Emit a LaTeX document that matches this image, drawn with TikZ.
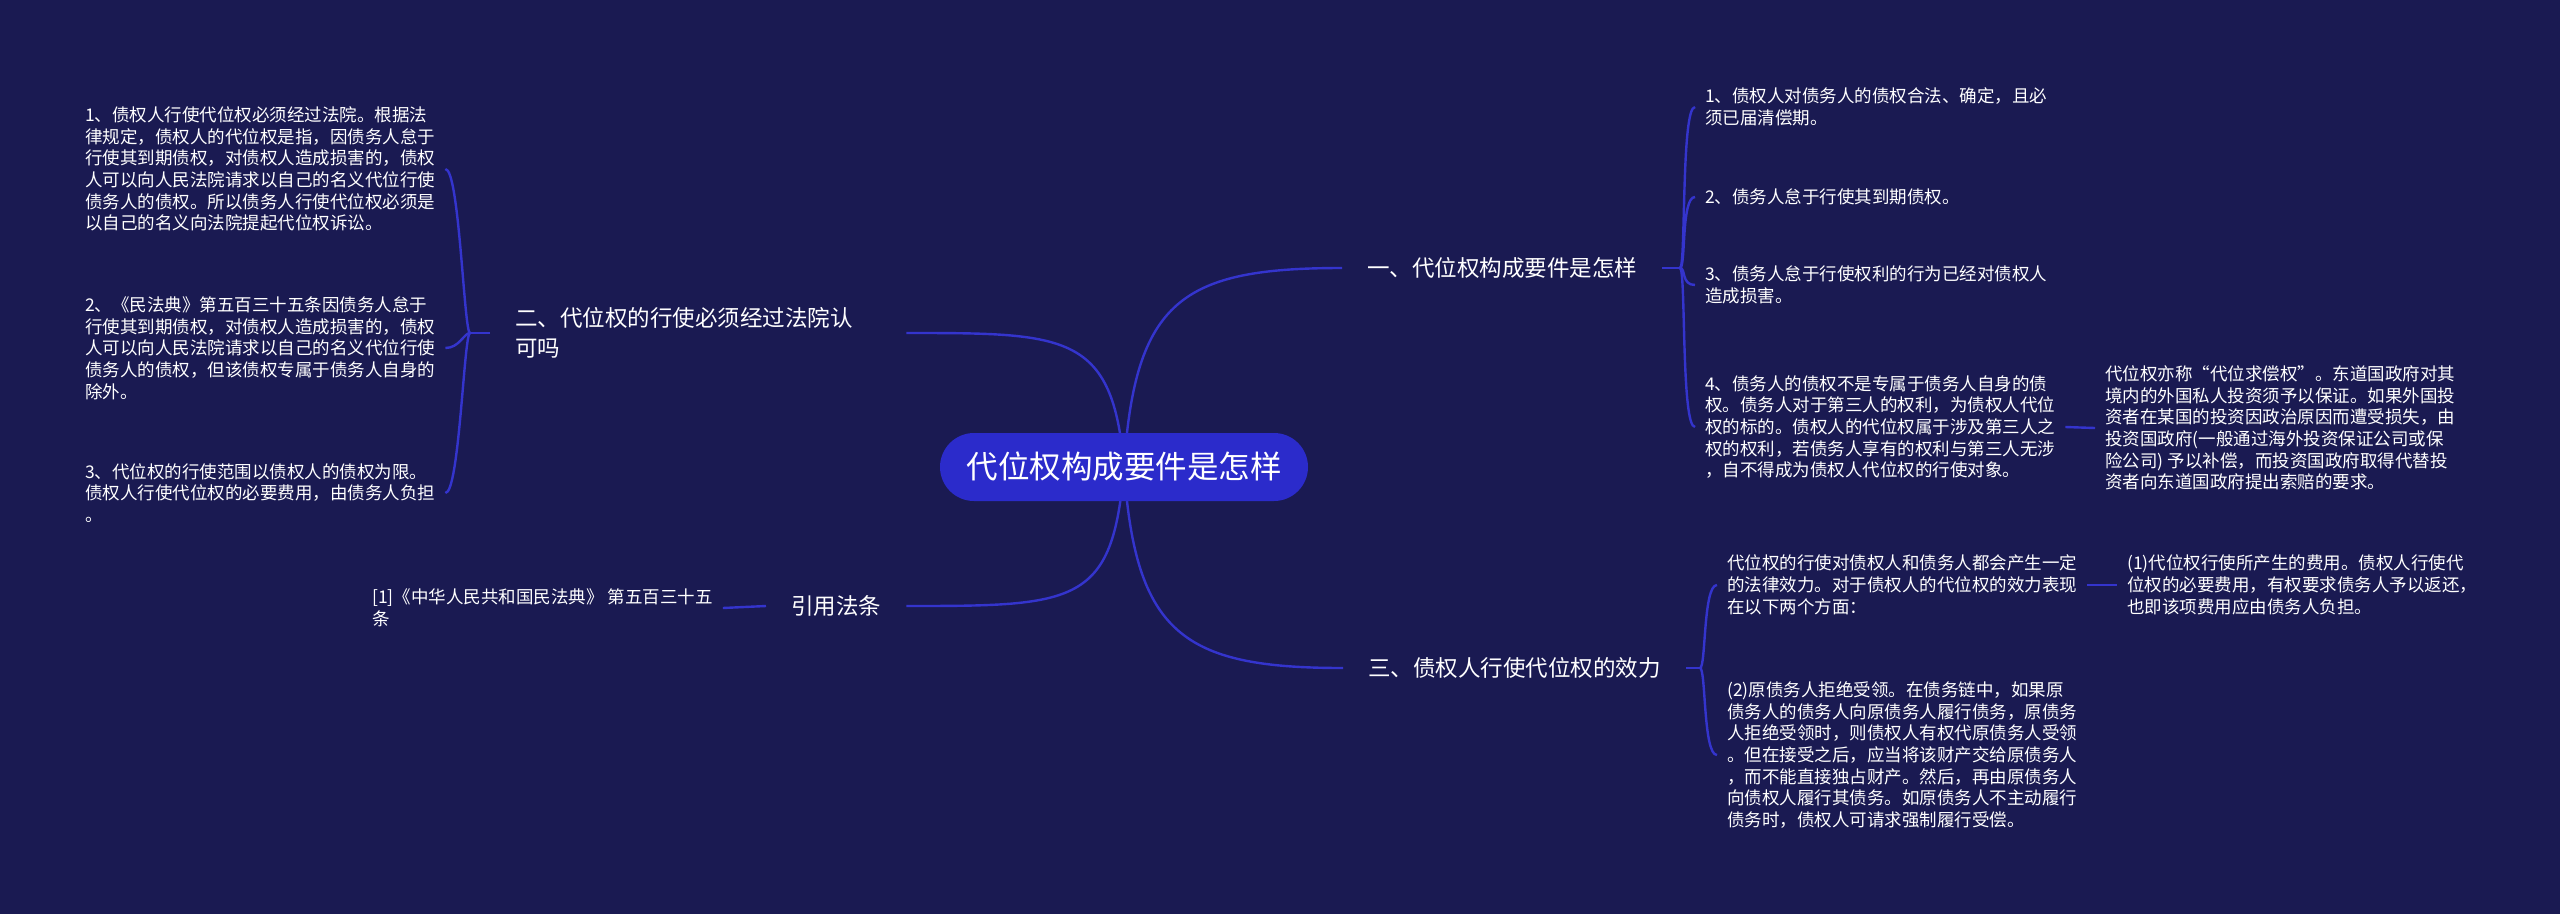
\documentclass[tikz,border=0pt]{standalone}
\usepackage{fontspec}
\newfontfamily\cjk{Noto Sans CJK SC}
\usetikzlibrary{calc}
\definecolor{bgc}{RGB}{26,26,82}
\definecolor{linec}{RGB}{52,52,205}
\definecolor{rootc}{RGB}{43,43,203}
\pgfdeclarelayer{bgl}
\pgfsetlayers{bgl,main}
\tikzset{
  leaf/.style={font=\cjk\fontsize{17.5}{21.7}\selectfont, text=white, align=left, inner xsep=10pt, inner ysep=0pt},
  topic/.style={font=\cjk\fontsize{22.5}{30}\selectfont, text=white, align=left, inner xsep=25pt, inner ysep=0pt},
  rootnode/.style={font=\cjk\fontsize{31.5}{40}\selectfont, text=white, fill=rootc, rounded corners=34pt, minimum width=368pt, minimum height=68pt, inner sep=0pt},
  conn/.style={draw=linec, line width=2.4pt}
}
\begin{document}
\begin{tikzpicture}[x=1pt,y=-1pt]
\begin{pgfonlayer}{bgl}
\fill[bgc] (0,0) rectangle (2560,914);
\end{pgfonlayer}
\useasboundingbox (0,0) rectangle (2560,914);

\node[rootnode] (c) at (1124,467) {代位权构成要件是怎样};

\node[topic, anchor=west] (t1) at (1342,268) {一、代位权构成要件是怎样};
\node[topic, anchor=west] (t3) at (1343,668) {三、债权人行使代位权的效力};
\node[topic, anchor=west, text width=366pt] (t2) at (490,333) {二、代位权的行使必须经过法院认\\可吗};
\node[topic, anchor=west] (tr) at (766,606) {引用法条};

\coordinate (b1) at (1680,268);
\coordinate (b3) at (1700,668);
\coordinate (b2) at (470,333);

\node[leaf, anchor=west] (l1) at (1695,107) {1、债权人对债务人的债权合法、确定，且必\\须已届清偿期。};
\node[leaf, anchor=west] (l2) at (1695,197) {2、债务人怠于行使其到期债权。};
\node[leaf, anchor=west] (l3) at (1695,285) {3、债务人怠于行使权利的行为已经对债权人\\造成损害。};
\node[leaf, anchor=west] (l4) at (1695,427) {4、债务人的债权不是专属于债务人自身的债\\权。债务人对于第三人的权利，为债权人代位\\权的标的。债权人的代位权属于涉及第三人之\\权的权利，若债务人享有的权利与第三人无涉\\，自不得成为债权人代位权的行使对象。};
\node[leaf, anchor=west] (l4c) at (2095,428) {代位权亦称“代位求偿权”。东道国政府对其\\境内的外国私人投资须予以保证。如果外国投\\资者在某国的投资因政治原因而遭受损失，由\\投资国政府(一般通过海外投资保证公司或保\\险公司) 予以补偿，而投资国政府取得代替投\\资者向东道国政府提出索赔的要求。};

\node[leaf, anchor=west] (a) at (1717,585) {代位权的行使对债权人和债务人都会产生一定\\的法律效力。对于债权人的代位权的效力表现\\在以下两个方面：};
\node[leaf, anchor=west] (ac) at (2117,585) {(1)代位权行使所产生的费用。债权人行使代\\位权的必要费用，有权要求债务人予以返还，\\也即该项费用应由债务人负担。};
\node[leaf, anchor=west] (b) at (1717,755) {(2)原债务人拒绝受领。在债务链中，如果原\\债务人的债务人向原债务人履行债务，原债务\\人拒绝受领时，则债权人有权代原债务人受领\\。但在接受之后，应当将该财产交给原债务人\\，而不能直接独占财产。然后，再由原债务人\\向债权人履行其债务。如原债务人不主动履行\\债务时，债权人可请求强制履行受偿。};

\node[leaf, anchor=west] (L1) at (75,169) {1、债权人行使代位权必须经过法院。根据法\\律规定，债权人的代位权是指，因债务人怠于\\行使其到期债权，对债权人造成损害的，债权\\人可以向人民法院请求以自己的名义代位行使\\债务人的债权。所以债务人行使代位权必须是\\以自己的名义向法院提起代位权诉讼。};
\node[leaf, anchor=west] (L2) at (75,348) {2、《民法典》第五百三十五条因债务人怠于\\行使其到期债权，对债权人造成损害的，债权\\人可以向人民法院请求以自己的名义代位行使\\债务人的债权，但该债权专属于债务人自身的\\除外。};
\node[leaf, anchor=west] (L3) at (75,493) {3、代位权的行使范围以债权人的债权为限。\\债权人行使代位权的必要费用，由债务人负担\\。};
\node[leaf, anchor=west] (r1) at (362,608) {[1]《中华人民共和国民法典》 第五百三十五\\条};

\begin{pgfonlayer}{bgl}
\draw[conn] (c.center) .. controls ($(c.center)+(11,-167)$) and ($(t1.west)+(-160,0)$) .. (t1.west);
\draw[conn] (c.center) .. controls ($(c.center)+(11,167)$) and ($(t3.west)+(-160,0)$) .. (t3.west);
\draw[conn] (c.center) .. controls ($(c.center)+(-11,-134)$) and ($(t2.east)+(160,0)$) .. (t2.east);
\draw[conn] (c.center) .. controls ($(c.center)+(-11,138)$) and ($(tr.east)+(170,0)$) .. (tr.east);
\end{pgfonlayer}

\draw[conn] (t1.east) -- (b1);
\foreach \n in {l1,l2,l3,l4}
  \draw[conn] (b1) .. controls ($(b1)+(6,0)$) and ($(\n.west)+(-14,0)$) .. (\n.west);
\draw[conn] (l4.east) -- (l4c.west);

\draw[conn] (t3.east) -- (b3);
\foreach \n in {a,b}
  \draw[conn] (b3) .. controls ($(b3)+(6,0)$) and ($(\n.west)+(-14,0)$) .. (\n.west);
\draw[conn] (a.east) -- (ac.west);

\draw[conn] (t2.west) -- (b2);
\foreach \n in {L1,L2,L3}
  \draw[conn] (b2) .. controls ($(b2)+(-6,0)$) and ($(\n.east)+(14,0)$) .. (\n.east);

\draw[conn] (tr.west) -- (r1.east);
\end{tikzpicture}
\end{document}
